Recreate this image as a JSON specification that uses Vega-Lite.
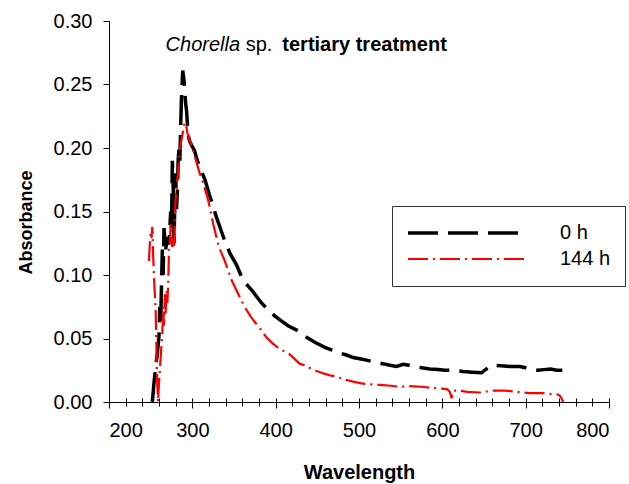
{
  "$schema": "https://vega.github.io/schema/vega-lite/v6.json",
  "width": 500,
  "height": 381,
  "autosize": {"type": "none"},
  "padding": {"left": 109, "top": 21, "right": 20, "bottom": 82},
  "config": {
    "view": {"stroke": null},
    "font": "Liberation Sans",
    "axis": {"grid": false, "domainColor": "#000000", "tickColor": "#000000", "labelColor": "#000000", "titleColor": "#000000", "labelFont": "Liberation Sans", "titleFont": "Liberation Sans"},
    "legend": {"labelFont": "Liberation Sans"}
  },
  "resolve": {"axis": {"x": "independent"}},
  "layer": [
    {
      "data": {"values": [
        {"w":252,"a":0,"s":"0 h"},{"w":254,"a":0.015,"s":"0 h"},{"w":256,"a":0.028,"s":"0 h"},{"w":258,"a":0.038,"s":"0 h"},{"w":260,"a":0.052,"s":"0 h"},{"w":261,"a":0.075,"s":"0 h"},{"w":262,"a":0.062,"s":"0 h"},{"w":263,"a":0.092,"s":"0 h"},{"w":264,"a":0.12,"s":"0 h"},{"w":265,"a":0.1,"s":"0 h"},{"w":266,"a":0.137,"s":"0 h"},{"w":267,"a":0.128,"s":"0 h"},{"w":268,"a":0.12,"s":"0 h"},{"w":270,"a":0.13,"s":"0 h"},{"w":272,"a":0.124,"s":"0 h"},{"w":274,"a":0.15,"s":"0 h"},{"w":275,"a":0.135,"s":"0 h"},{"w":276,"a":0.19,"s":"0 h"},{"w":277,"a":0.172,"s":"0 h"},{"w":278,"a":0.125,"s":"0 h"},{"w":279,"a":0.158,"s":"0 h"},{"w":280,"a":0.18,"s":"0 h"},{"w":281,"a":0.152,"s":"0 h"},{"w":282,"a":0.165,"s":"0 h"},{"w":283,"a":0.19,"s":"0 h"},{"w":284,"a":0.2,"s":"0 h"},{"w":285,"a":0.19,"s":"0 h"},{"w":286,"a":0.217,"s":"0 h"},{"w":287,"a":0.24,"s":"0 h"},{"w":288.5,"a":0.261,"s":"0 h"},{"w":290,"a":0.253,"s":"0 h"},{"w":292,"a":0.235,"s":"0 h"},{"w":293,"a":0.23,"s":"0 h"},{"w":295,"a":0.21,"s":"0 h"},{"w":297,"a":0.205,"s":"0 h"},{"w":300,"a":0.201,"s":"0 h"},{"w":302.6,"a":0.198,"s":"0 h"},{"w":305.5,"a":0.191,"s":"0 h"},{"w":309.4,"a":0.184,"s":"0 h"},{"w":315.2,"a":0.175,"s":"0 h"},{"w":321,"a":0.162,"s":"0 h"},{"w":324.9,"a":0.154,"s":"0 h"},{"w":328.7,"a":0.146,"s":"0 h"},{"w":334.5,"a":0.135,"s":"0 h"},{"w":339.4,"a":0.126,"s":"0 h"},{"w":345.2,"a":0.117,"s":"0 h"},{"w":353,"a":0.108,"s":"0 h"},{"w":358.8,"a":0.099,"s":"0 h"},{"w":364.6,"a":0.093,"s":"0 h"},{"w":371.4,"a":0.088,"s":"0 h"},{"w":377.2,"a":0.083,"s":"0 h"},{"w":383,"a":0.078,"s":"0 h"},{"w":391.7,"a":0.072,"s":"0 h"},{"w":398.5,"a":0.068,"s":"0 h"},{"w":406.3,"a":0.064,"s":"0 h"},{"w":414.9,"a":0.06,"s":"0 h"},{"w":427,"a":0.056,"s":"0 h"},{"w":437,"a":0.051,"s":"0 h"},{"w":447,"a":0.047,"s":"0 h"},{"w":459,"a":0.043,"s":"0 h"},{"w":467,"a":0.041,"s":"0 h"},{"w":475,"a":0.039,"s":"0 h"},{"w":485,"a":0.037,"s":"0 h"},{"w":493,"a":0.035,"s":"0 h"},{"w":501,"a":0.034,"s":"0 h"},{"w":509,"a":0.033,"s":"0 h"},{"w":515,"a":0.032,"s":"0 h"},{"w":521,"a":0.031,"s":"0 h"},{"w":530,"a":0.03,"s":"0 h"},{"w":537,"a":0.029,"s":"0 h"},{"w":545,"a":0.028,"s":"0 h"},{"w":553,"a":0.0297,"s":"0 h"},{"w":560,"a":0.029,"s":"0 h"},{"w":566,"a":0.028,"s":"0 h"},{"w":575,"a":0.027,"s":"0 h"},{"w":585,"a":0.026,"s":"0 h"},{"w":595,"a":0.0255,"s":"0 h"},{"w":603,"a":0.025,"s":"0 h"},{"w":613,"a":0.025,"s":"0 h"},{"w":625,"a":0.024,"s":"0 h"},{"w":636,"a":0.0235,"s":"0 h"},{"w":647,"a":0.023,"s":"0 h"},{"w":653,"a":0.026,"s":"0 h"},{"w":659,"a":0.029,"s":"0 h"},{"w":670,"a":0.0285,"s":"0 h"},{"w":682,"a":0.028,"s":"0 h"},{"w":693,"a":0.028,"s":"0 h"},{"w":700,"a":0.027,"s":"0 h"},{"w":705,"a":0.026,"s":"0 h"},{"w":715,"a":0.025,"s":"0 h"},{"w":722,"a":0.0255,"s":"0 h"},{"w":730,"a":0.026,"s":"0 h"},{"w":737,"a":0.025,"s":"0 h"},{"w":744,"a":0.025,"s":"0 h"},
        {"w":248,"a":0.111,"s":"144 h"},{"w":249,"a":0.125,"s":"144 h"},{"w":250,"a":0.133,"s":"144 h"},{"w":251,"a":0.129,"s":"144 h"},{"w":252,"a":0.138,"s":"144 h"},{"w":253,"a":0.115,"s":"144 h"},{"w":254,"a":0.098,"s":"144 h"},{"w":255,"a":0.085,"s":"144 h"},{"w":256,"a":0.072,"s":"144 h"},{"w":256.8,"a":0.046,"s":"144 h"},{"w":257.6,"a":0.02,"s":"144 h"},{"w":258.8,"a":0,"s":"144 h"},{"w":260,"a":0.015,"s":"144 h"},{"w":261,"a":0.025,"s":"144 h"},{"w":262,"a":0.035,"s":"144 h"},{"w":264,"a":0.055,"s":"144 h"},{"w":265,"a":0.075,"s":"144 h"},{"w":266,"a":0.06,"s":"144 h"},{"w":267,"a":0.085,"s":"144 h"},{"w":268,"a":0.07,"s":"144 h"},{"w":269,"a":0.088,"s":"144 h"},{"w":270,"a":0.078,"s":"144 h"},{"w":271,"a":0.092,"s":"144 h"},{"w":272,"a":0.12,"s":"144 h"},{"w":273,"a":0.125,"s":"144 h"},{"w":274,"a":0.14,"s":"144 h"},{"w":275,"a":0.128,"s":"144 h"},{"w":276,"a":0.122,"s":"144 h"},{"w":277,"a":0.13,"s":"144 h"},{"w":278,"a":0.122,"s":"144 h"},{"w":279,"a":0.145,"s":"144 h"},{"w":280,"a":0.16,"s":"144 h"},{"w":282,"a":0.175,"s":"144 h"},{"w":284,"a":0.19,"s":"144 h"},{"w":286,"a":0.203,"s":"144 h"},{"w":288,"a":0.21,"s":"144 h"},{"w":290,"a":0.218,"s":"144 h"},{"w":292,"a":0.22,"s":"144 h"},{"w":294,"a":0.212,"s":"144 h"},{"w":297,"a":0.206,"s":"144 h"},{"w":300,"a":0.2,"s":"144 h"},{"w":304.5,"a":0.19,"s":"144 h"},{"w":308.4,"a":0.181,"s":"144 h"},{"w":313.2,"a":0.172,"s":"144 h"},{"w":319,"a":0.159,"s":"144 h"},{"w":324.8,"a":0.141,"s":"144 h"},{"w":330.6,"a":0.125,"s":"144 h"},{"w":334.5,"a":0.118,"s":"144 h"},{"w":338.4,"a":0.112,"s":"144 h"},{"w":347.1,"a":0.096,"s":"144 h"},{"w":352.9,"a":0.088,"s":"144 h"},{"w":358.7,"a":0.08,"s":"144 h"},{"w":364.5,"a":0.073,"s":"144 h"},{"w":370.3,"a":0.067,"s":"144 h"},{"w":376.1,"a":0.062,"s":"144 h"},{"w":381,"a":0.058,"s":"144 h"},{"w":388.8,"a":0.051,"s":"144 h"},{"w":396.6,"a":0.046,"s":"144 h"},{"w":404.4,"a":0.042,"s":"144 h"},{"w":417,"a":0.0375,"s":"144 h"},{"w":429,"a":0.03,"s":"144 h"},{"w":435,"a":0.029,"s":"144 h"},{"w":443,"a":0.026,"s":"144 h"},{"w":455,"a":0.023,"s":"144 h"},{"w":465,"a":0.021,"s":"144 h"},{"w":473,"a":0.02,"s":"144 h"},{"w":481,"a":0.018,"s":"144 h"},{"w":493,"a":0.016,"s":"144 h"},{"w":503,"a":0.0147,"s":"144 h"},{"w":513,"a":0.0139,"s":"144 h"},{"w":525,"a":0.0135,"s":"144 h"},{"w":535,"a":0.013,"s":"144 h"},{"w":549,"a":0.012,"s":"144 h"},{"w":560,"a":0.0125,"s":"144 h"},{"w":575,"a":0.012,"s":"144 h"},{"w":590,"a":0.011,"s":"144 h"},{"w":600,"a":0.0105,"s":"144 h"},{"w":606,"a":0.01,"s":"144 h"},{"w":609,"a":0.008,"s":"144 h"},{"w":611,"a":0.003,"s":"144 h"},{"w":613,"a":0.009,"s":"144 h"},{"w":620,"a":0.009,"s":"144 h"},{"w":630,"a":0.008,"s":"144 h"},{"w":645,"a":0.0075,"s":"144 h"},{"w":660,"a":0.009,"s":"144 h"},{"w":675,"a":0.009,"s":"144 h"},{"w":690,"a":0.008,"s":"144 h"},{"w":705,"a":0.007,"s":"144 h"},{"w":720,"a":0.007,"s":"144 h"},{"w":733,"a":0.006,"s":"144 h"},{"w":738,"a":0.006,"s":"144 h"},{"w":741,"a":0.005,"s":"144 h"},{"w":743,"a":0.003,"s":"144 h"},{"w":745,"a":0,"s":"144 h"}
      ]},
      "mark": {"type": "line", "strokeCap": "butt", "clip": true},
      "encoding": {
        "x": {"field": "w", "type": "quantitative",
          "scale": {"domain": [200, 800], "nice": false, "zero": false},
          "axis": {"orient": "bottom", "values": [200, 300, 400, 500, 600, 700, 800], "title": "Wavelength", "tickSize": 6, "labelFontSize": 20, "labelPadding": 12, "titleFontSize": 20, "titleFontWeight": "bold", "titleY": 76, "titleBaseline": "alphabetic"}},
        "y": {"field": "a", "type": "quantitative",
          "scale": {"domain": [0, 0.3], "nice": false},
          "axis": {"values": [0, 0.05, 0.1, 0.15, 0.2, 0.25, 0.3], "format": ".2f", "title": "Absorbance", "tickSize": 6, "labelPadding": 11, "labelFontSize": 20, "titleFontSize": 18, "titleFontWeight": "bold", "titleX": -78, "titleY": 201, "titleAngle": -90, "titleAlign": "center", "titleBaseline": "alphabetic"}},
        "color": {"field": "s", "type": "nominal",
          "scale": {"domain": ["0 h", "144 h"], "range": ["#000000", "#ff0000"]},
          "legend": {"title": null, "orient": "none", "legendX": 283, "legendY": 185, "symbolType": "stroke", "symbolSize": 13689, "clipHeight": 26, "rowPadding": 0, "padding": 14, "labelOffset": 33, "labelFontSize": 20, "labelColor": "#000000", "strokeColor": "#333333", "fillColor": "#ffffff", "labelLimit": 200}},
        "strokeDash": {"field": "s", "type": "nominal",
          "scale": {"domain": ["0 h", "144 h"], "range": [[30, 10], [20, 5, 2, 5]]},
          "legend": {"title": null, "orient": "none", "legendX": 283, "legendY": 185, "symbolType": "stroke", "symbolSize": 13689, "clipHeight": 26, "rowPadding": 0, "padding": 14, "labelOffset": 33, "labelFontSize": 20, "labelColor": "#000000", "strokeColor": "#333333", "fillColor": "#ffffff", "labelLimit": 200}},
        "strokeWidth": {"field": "s", "type": "nominal",
          "scale": {"domain": ["0 h", "144 h"], "range": [3.5, 2.2]},
          "legend": {"title": null, "orient": "none", "legendX": 283, "legendY": 185, "symbolType": "stroke", "symbolSize": 13689, "clipHeight": 26, "rowPadding": 0, "padding": 14, "labelOffset": 33, "labelFontSize": 20, "labelColor": "#000000", "strokeColor": "#333333", "fillColor": "#ffffff", "labelLimit": 200}}
      }
    },
    {
      "data": {"values": [{"t": "Chorella"}]},
      "mark": {"type": "text", "align": "left", "baseline": "alphabetic", "fontSize": 20, "fontStyle": "italic", "color": "#000000"},
      "encoding": {
        "x": {"datum": 267.9, "type": "quantitative", "axis": {"orient": "bottom", "values": [200,220,240,260,280,300,320,340,360,380,400,420,440,460,480,500,520,540,560,580,600,620,640,660,680,700,720,740,760,780,800], "labels": false, "domain": false, "tickSize": 4, "title": null}},
        "y": {"datum": 0.2764, "type": "quantitative"},
        "text": {"field": "t"}
      }
    },
    {
      "data": {"values": [{"t": "sp."}]},
      "mark": {"type": "text", "align": "left", "baseline": "alphabetic", "fontSize": 20, "color": "#000000"},
      "encoding": {
        "x": {"datum": 364, "type": "quantitative", "axis": {"orient": "bottom", "offset": -4, "values": [200,220,240,260,280,300,320,340,360,380,400,420,440,460,480,500,520,540,560,580,600,620,640,660,680,700,720,740,760,780,800], "labels": false, "domain": false, "tickSize": 4, "title": null}},
        "y": {"datum": 0.2764, "type": "quantitative"},
        "text": {"field": "t"}
      }
    },
    {
      "data": {"values": [{"t": "tertiary treatment"}]},
      "mark": {"type": "text", "align": "left", "baseline": "alphabetic", "fontSize": 20, "fontWeight": "bold", "color": "#000000"},
      "encoding": {
        "x": {"datum": 408, "type": "quantitative", "axis": null},
        "y": {"datum": 0.2764, "type": "quantitative"},
        "text": {"field": "t"}
      }
    }
  ]
}
